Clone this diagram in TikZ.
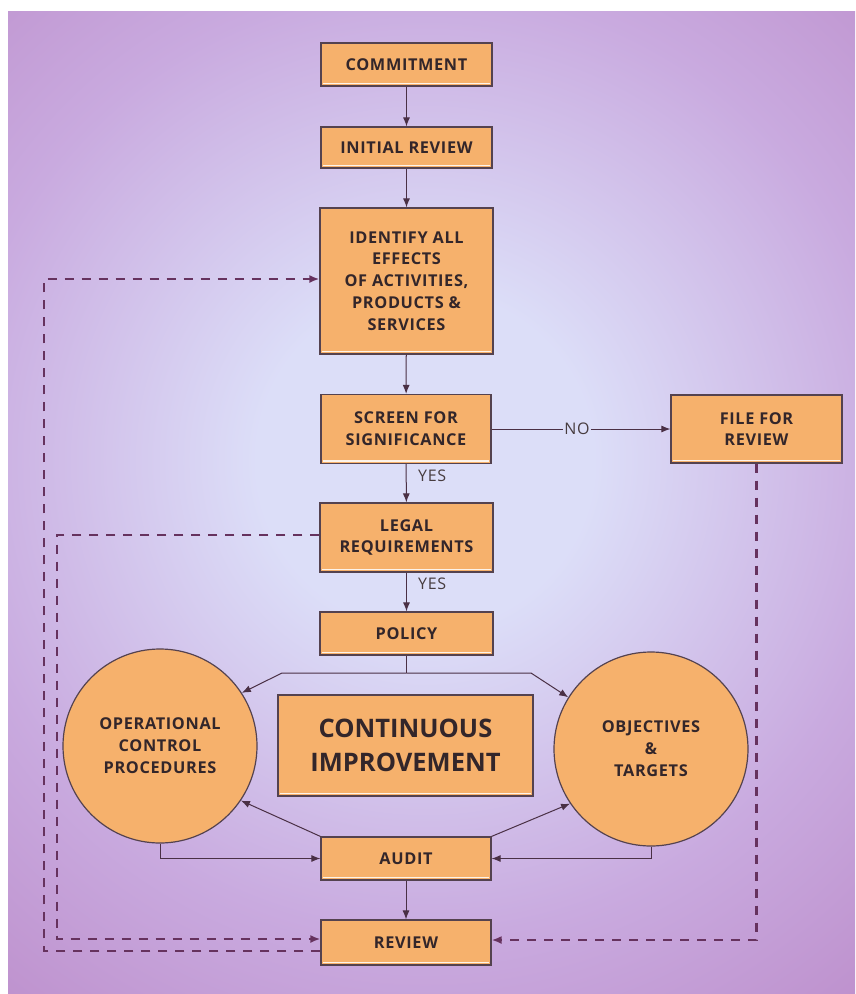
\documentclass[tikz,border=0pt]{standalone}
\usepackage{fontspec}
\setmainfont{Open Sans}
\newfontfamily\boxfont[LetterSpace=4]{Open Sans}
\usetikzlibrary{arrows.meta}
\definecolor{boxfill}{HTML}{F6B16C}
\definecolor{boxline}{HTML}{54424F}
\definecolor{txt}{HTML}{33262A}
\definecolor{wire}{HTML}{4A3045}
\definecolor{dashc}{HTML}{66325E}
\definecolor{bgin}{HTML}{DCDEF8}
\definecolor{bgmid}{HTML}{C9AADF}
\definecolor{bgout}{HTML}{B57DBF}
\pgfdeclareradialshading{bgshade}{\pgfpoint{0bp}{0bp}}{color(0bp)=(bgin); color(6bp)=(bgin); color(17bp)=(bgmid); color(31bp)=(bgout); color(50bp)=(bgout)}
\tikzset{
  box/.style={draw=boxline, fill=boxfill, line width=1.2pt, align=center, text=txt,
    inner sep=0pt, font=\boxfont\fontsize{16.3}{21.8}\selectfont\bfseries,
    path picture={\draw[white, opacity=0.85, line width=1.4pt]
      ([shift={(2pt,2.6pt)}]path picture bounding box.south west) --
      ([shift={(-2pt,2.6pt)}]path picture bounding box.south east);}},
  bigbox/.style={box, font=\fontsize{25.5}{34}\selectfont\bfseries},
  rnd/.style={circle, draw=boxline, fill=boxfill, line width=1.2pt, align=center, text=txt,
    inner sep=0pt, minimum size=194pt, font=\boxfont\fontsize{16.3}{22}\selectfont\bfseries},
  lbl/.style={text=txt!90, font=\boxfont\fontsize{16}{18}\selectfont, inner sep=1pt},
  arr/.style={draw=wire, line width=1pt, -{Latex[length=9pt,width=7pt]}},
  wireline/.style={draw=wire, line width=1pt},
  dashline/.style={draw=dashc, line width=2.2pt, dash pattern=on 9pt off 8pt},
  dasharr/.style={dashline, -{Latex[length=10pt,width=8pt]}}
}
\begin{document}
\begin{tikzpicture}[x=1pt,y=-1pt]
\useasboundingbox (0,0) rectangle (855,994);
\fill[white] (0,0) rectangle (855,994);
\begin{scope}
  \clip (8,11) rectangle (855,994);
  \shade[shading=bgshade] (425,460) circle (700);
\end{scope}

% boxes
\node[box, minimum width=171pt, minimum height=43pt] (commit) at (406.5,64.5) {COMMITMENT};
\node[box, minimum width=171pt, minimum height=41pt] (init) at (406.5,147.5) {INITIAL REVIEW};
\node[box, minimum width=173pt, minimum height=146pt] (ident) at (406.5,281) {IDENTIFY ALL\\EFFECTS\\OF ACTIVITIES,\\PRODUCTS \&\\SERVICES};
\node[box, minimum width=170pt, minimum height=69pt] (screen) at (406,429) {SCREEN FOR\\SIGNIFICANCE};
\node[box, minimum width=171pt, minimum height=68pt] (file) at (756.5,429) {FILE FOR\\REVIEW};
\node[box, minimum width=173pt, minimum height=69pt] (legal) at (406.5,537.5) {LEGAL\\REQUIREMENTS};
\node[box, minimum width=173pt, minimum height=43pt] (policy) at (406.5,633.5) {POLICY};
\node[bigbox, minimum width=255pt, minimum height=101pt] (ci) at (405.5,745.5) {CONTINUOUS\\IMPROVEMENT};
\node[rnd] (opc) at (160,746) {OPERATIONAL\\CONTROL\\PROCEDURES};
\node[rnd] (obj) at (651,749) {OBJECTIVES\\\&\\TARGETS};
\node[box, minimum width=170pt, minimum height=43pt] (audit) at (406,858.5) {AUDIT};
\node[box, minimum width=170pt, minimum height=45pt] (review) at (406,942.5) {REVIEW};

% labels
\node[lbl, anchor=west] (yes1) at (417,476) {YES};
\node[lbl, anchor=west] (yes2) at (417,584) {YES};
\node[lbl] (no) at (577,429) {NO};

% main flow
\draw[arr] (commit) -- (init);
\draw[arr] (init) -- (ident);
\draw[arr] (ident) -- (screen);
\draw[arr] (screen) -- (legal);
\draw[arr] (legal) -- (policy);
\draw[arr] (audit) -- (review);
\draw[wireline] (screen.east) -- (no.west);
\draw[arr] (no.east) -- (file.west);

% policy to circles
\coordinate (pj) at (406.5,673);
\coordinate (pl) at (282,673);
\coordinate (pr) at (531,673);
\draw[wireline] (policy.south) -- (pj);
\draw[arr] (pj) -- (pl) -- (opc.33);
\draw[arr] (pj) -- (pr) -- (obj.148);

% audit to circles
\draw[arr] (audit.north west) -- (opc.-34);
\draw[arr] (audit.north east) -- (obj.-146);
\draw[arr] (opc.south) |- (audit.west);
\draw[arr] (obj.south) |- (audit.east);

% dashed feedback loops
\coordinate (oa) at (44,951);
\coordinate (ob) at (44,279);
\draw[dasharr] (review.west |- oa) -- (oa) -- (ob) -- (ident.west |- ob);
\coordinate (ia) at (57,535);
\coordinate (ib) at (57,939);
\draw[dasharr] (legal.west |- ia) -- (ia) -- (ib) -- (review.west |- ib);
\coordinate (fa) at (756.5,940);
\draw[dasharr] (file.south) -- (fa) -- (review.east |- fa);
\end{tikzpicture}
\end{document}
